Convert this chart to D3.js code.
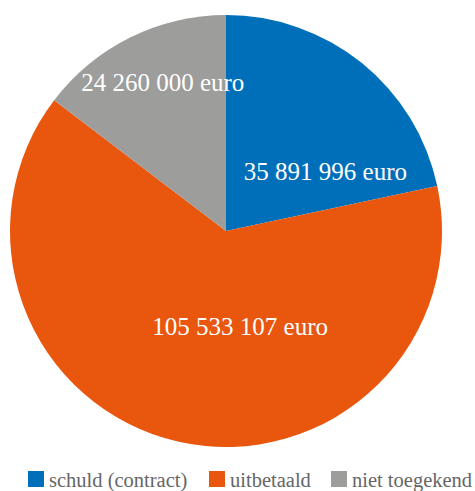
<!DOCTYPE html>
<html>
<head>
<meta charset="utf-8">
<script src="https://cdn.jsdelivr.net/npm/d3@7"></script>
<style>
  body { margin: 0; background: #fff; }
  svg { display: block; }
  text { font-family: "Liberation Serif", "Times New Roman", "DejaVu Serif", serif; }
</style>
</head>
<body>
<svg></svg>
<script>
// data
var categories = ["schuld (contract)", "uitbetaald", "niet toegekend"];
var values = [35891996, 105533107, 24260000];
var labels = ["35 891 996 euro", "105 533 107 euro", "24 260 000 euro"];
var colors = ["#006fba", "#e9560e", "#9d9d9c"];

var W = 475, H = 491;
var cx = 226, cy = 231, r = 216;

var svg = d3.select("svg")
    .attr("width", W)
    .attr("height", H);

var g = svg.append("g")
    .attr("transform", "translate(" + cx + "," + cy + ")");

var pie = d3.pie().sort(null).value(function(d) { return d; });
var arcs = pie(values);

var arc = d3.arc().innerRadius(0).outerRadius(r);

g.selectAll("path.slice")
    .data(arcs)
    .enter().append("path")
    .attr("class", "slice")
    .attr("d", arc)
    .attr("fill", function(d, i) { return colors[i]; });

// label placement (angle in degrees from 12 o'clock, radius in px)
var labelPolar = [{a: 59, rr: 116}, {a: 171.5, rr: 96}, {a: 337, rr: 162}];

g.selectAll("text.lbl")
    .data(arcs)
    .enter().append("text")
    .attr("class", "lbl")
    .attr("x", function(d, i) { return labelPolar[i].rr * Math.sin(labelPolar[i].a * Math.PI / 180); })
    .attr("y", function(d, i) { return -labelPolar[i].rr * Math.cos(labelPolar[i].a * Math.PI / 180); })
    .attr("dy", "0.35em")
    .attr("text-anchor", "middle")
    .attr("fill", "#fff")
    .attr("font-size", 25)
    .text(function(d, i) { return labels[i]; });

// legend
var legendPos = [28, 209, 331];

var leg = svg.selectAll("g.leg")
    .data(categories)
    .enter().append("g")
    .attr("class", "leg")
    .attr("transform", function(d, i) { return "translate(" + legendPos[i] + ",471)"; });

leg.append("rect")
    .attr("width", 16)
    .attr("height", 16)
    .attr("fill", function(d, i) { return colors[i]; });

leg.append("text")
    .attr("x", 21)
    .attr("y", 16)
    .attr("fill", "#666")
    .attr("font-size", 20.5)
    .text(function(d) { return d; });
</script>
</body>
</html>
